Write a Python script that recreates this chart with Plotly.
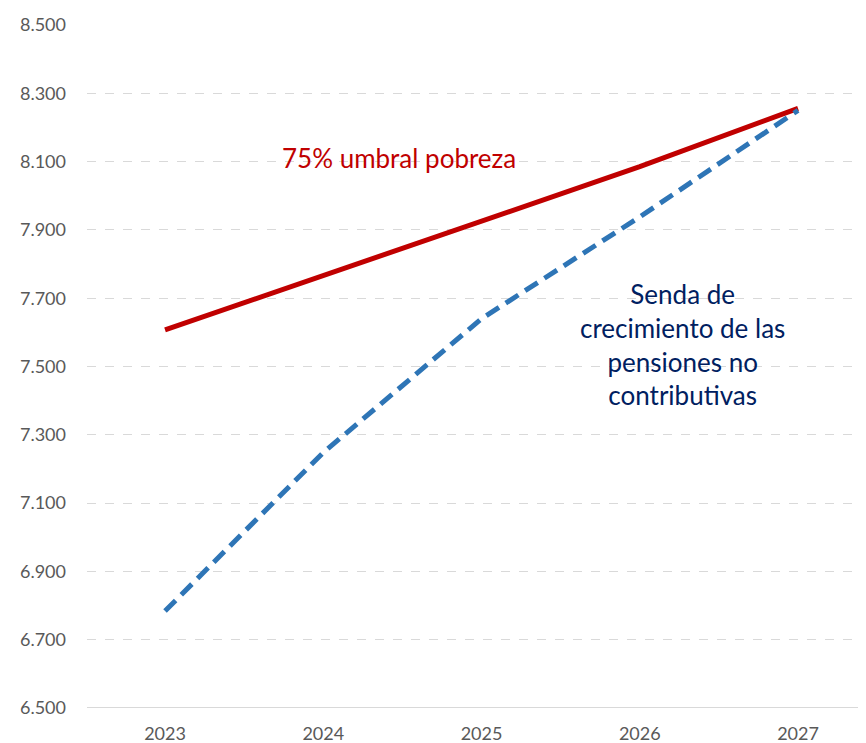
import plotly.graph_objects as go

years = [2023, 2024, 2025, 2026, 2027]
umbral = [7607, 7766, 7926, 8085, 8256]
senda = [6784, 7248, 7640, 7938, 8250]
y_ticks = [6500, 6700, 6900, 7100, 7300, 7500, 7700, 7900, 8100, 8300, 8500]

FONT = "Lato"

fig = go.Figure()
fig.add_trace(go.Scatter(
    x=years, y=umbral, mode="lines",
    line=dict(color="#C00000", width=5),
    showlegend=False, hoverinfo="skip"))
fig.add_trace(go.Scatter(
    x=years, y=senda, mode="lines",
    line=dict(color="#2E75B6", width=5, dash="15px,8px"),
    showlegend=False, hoverinfo="skip"))

fig.add_annotation(x=2024.479, y=8110, xref="x", yref="y",
                   text="75% umbral pobreza", showarrow=False,
                   font=dict(family=FONT, size=26, color="#C00000"))
fig.add_annotation(x=2026.273, y=7563, xref="x", yref="y",
                   text="Senda de<br>crecimiento de las<br>pensiones no<br>contributivas",
                   showarrow=False, align="center",
                   font=dict(family=FONT, size=26, color="#002060"))

fig.update_layout(
    width=866, height=743,
    margin=dict(l=79, r=0, t=17, b=43),
    paper_bgcolor="white", plot_bgcolor="white",
    separators=",.",
    font=dict(family=FONT, size=18, color="#595959"),
    xaxis=dict(range=[2022.507, 2027.48], tickmode="array", tickvals=years,
               ticktext=[str(y) for y in years], showgrid=False,
               zeroline=False, showline=False, ticks="",
               ticklabelstandoff=13),
    yaxis=dict(range=[6500, 8500], tickmode="array", tickvals=y_ticks,
               tickformat=",d", showgrid=True, gridcolor="#D9D9D9",
               griddash="dash", gridwidth=1, zeroline=False, showline=False,
               ticks="", ticklabelstandoff=20),
)
fig.add_hline(y=6500, line=dict(color="#D9D9D9", width=2))

fig.write_html("out.html")
